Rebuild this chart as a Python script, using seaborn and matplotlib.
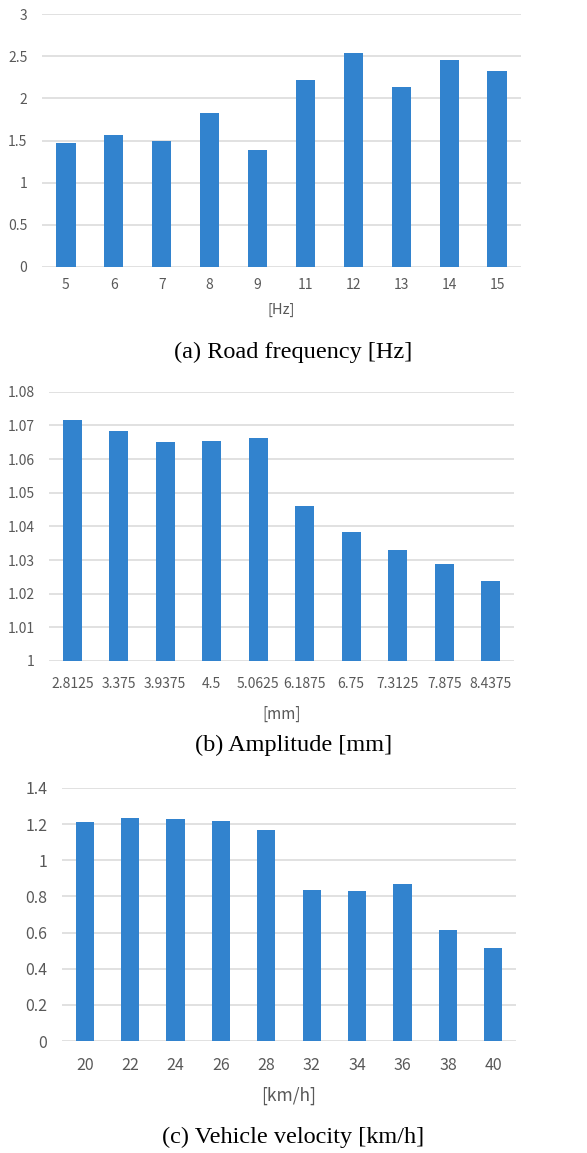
import matplotlib
matplotlib.use("Agg")
import matplotlib.pyplot as plt
import seaborn as sns
import pandas as pd

# ---- data ----
freq_labels = ["5", "6", "7", "8", "9", "11", "12", "13", "14", "15"]
freq_values = [1.474, 1.561, 1.494, 1.826, 1.383, 2.213, 2.541, 2.134, 2.451, 2.328]

amp_labels = ["2.8125", "3.375", "3.9375", "4.5", "5.0625", "6.1875", "6.75", "7.3125", "7.875", "8.4375"]
amp_values = [1.0717, 1.0682, 1.0650, 1.0655, 1.0661, 1.0460, 1.0383, 1.0329, 1.0287, 1.0238]

vel_labels = ["20", "22", "24", "26", "28", "32", "34", "36", "38", "40"]
vel_values = [1.214, 1.232, 1.227, 1.219, 1.168, 0.837, 0.832, 0.869, 0.616, 0.516]

freq_yticks = [0, 0.5, 1, 1.5, 2, 2.5, 3]
freq_yticklabels = ["0", "0.5", "1", "1.5", "2", "2.5", "3"]
amp_yticks = [1, 1.01, 1.02, 1.03, 1.04, 1.05, 1.06, 1.07, 1.08]
amp_yticklabels = ["1", "1.01", "1.02", "1.03", "1.04", "1.05", "1.06", "1.07", "1.08"]
vel_yticks = [0, 0.2, 0.4, 0.6, 0.8, 1, 1.2, 1.4]
vel_yticklabels = ["0", "0.2", "0.4", "0.6", "0.8", "1", "1.2", "1.4"]

xlabels = ["[Hz]", "[mm]", "[km/h]"]
captions = ["(a) Road frequency [Hz]", "(b) Amplitude [mm]", "(c) Vehicle velocity [km/h]"]

sns.set_theme(style="white")
plt.rcParams['font.family'] = ['Noto Sans CJK KR', 'DejaVu Sans']

W, H = 587, 1153
fig = plt.figure(figsize=(W / 100, H / 100), dpi=100)
BAR = "#3283CE"
GRID = "#D9D9D9"
TXT = "#595959"

panels = [
    dict(labels=freq_labels, values=freq_values, yticks=freq_yticks, ytl=freq_yticklabels,
         ylim=(0, 3), box=(42, 521, 14, 267), fs=10, xpad=8, xl_y=310, cap_y=352, xl_fs=10.5),
    dict(labels=amp_labels, values=amp_values, yticks=amp_yticks, ytl=amp_yticklabels,
         ylim=(1, 1.08), box=(49, 514, 391.7, 661), fs=10, xpad=11.5, xl_y=714, cap_y=745, xl_fs=11),
    dict(labels=vel_labels, values=vel_values, yticks=vel_yticks, ytl=vel_yticklabels,
         ylim=(0, 1.4), box=(62, 516, 788, 1041), fs=11.5, xpad=11.5, xl_y=1096, cap_y=1137, xl_fs=12.5),
]

for i, p in enumerate(panels):
    x0, x1, yt, yb = p["box"]
    ax = fig.add_axes([x0 / W, 1 - yb / H, (x1 - x0) / W, (yb - yt) / H])
    df = pd.DataFrame({"cat": p["labels"], "val": p["values"]})
    sns.barplot(data=df, x="cat", y="val", ax=ax, color=BAR, saturation=1,
                width=0.4, order=p["labels"], zorder=3, linewidth=0)
    ax.set_ylim(*p["ylim"])
    ax.set_xlim(-0.5, len(p["labels"]) - 0.5)
    ax.set_yticks(p["yticks"])
    ax.set_yticklabels(p["ytl"])
    for y in p["yticks"]:
        ax.axhline(y, color=GRID, lw=1.1, zorder=1)
    for s in ax.spines.values():
        s.set_visible(False)
    ax.tick_params(axis="both", length=0, labelsize=p["fs"], labelcolor=TXT)
    ax.tick_params(axis="y", pad=10.5)
    ax.tick_params(axis="x", pad=p["xpad"])
    ax.set_xlabel("")
    ax.set_ylabel("")
    ax.grid(False)
    fig.text(((x0 + x1) / 2) / W, 1 - p["xl_y"] / H, xlabels[i], ha="center", va="center",
             fontsize=p["xl_fs"], color=TXT)
    fig.text(0.5, 1 - p["cap_y"] / H, captions[i], ha="center", va="center",
             fontsize=17.5, color="black", family=["Liberation Serif", "DejaVu Serif"])

fig.savefig("out.png", dpi=100, facecolor="white")
